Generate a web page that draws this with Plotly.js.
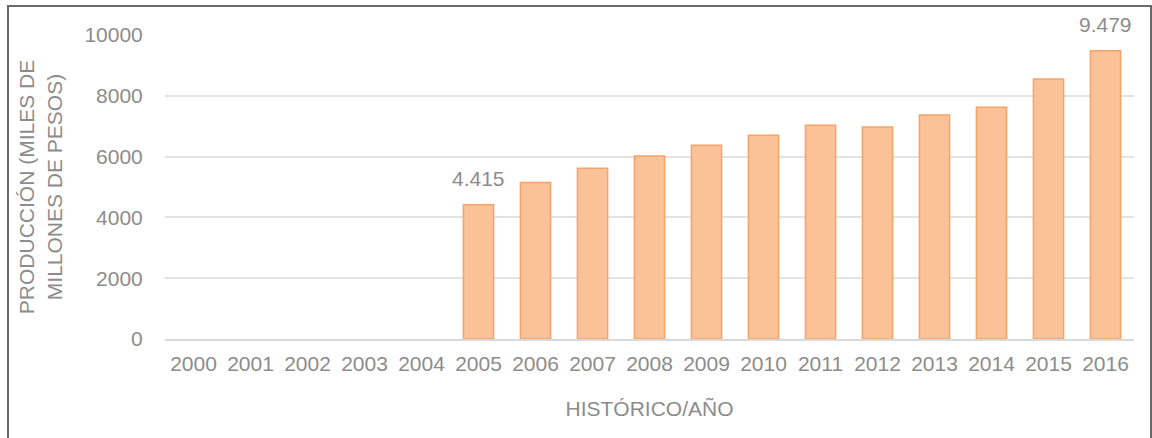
<!DOCTYPE html>
<html>
<head>
<meta charset="utf-8">
<script src="https://cdn.plot.ly/plotly-3.0.1.min.js"></script>
<style>
  html, body { margin:0; padding:0; background:#fff; }
  #wrap { position:relative; width:1152px; height:438px; overflow:hidden; }
  #chart { position:absolute; left:0; top:0; width:1152px; height:438px; }
  #frame { position:absolute; left:7px; top:5px; width:1141px; height:450px;
           border-left:2px solid #6a6a6a; border-top:2px solid #6a6a6a; border-right:2px solid #6a6a6a;
           pointer-events:none; }
</style>
</head>
<body>
<div id="wrap">
  <div id="chart"></div>
  <div id="frame"></div>
</div>
<script>
const years = ['2000','2001','2002','2003','2004','2005','2006','2007','2008','2009','2010','2011','2012','2013','2014','2015','2016'];
const production = [null, null, null, null, null, 4415, 5150, 5620, 6020, 6370, 6700, 7030, 6970, 7370, 7620, 8550, 9479];
const labelYears = ['2005', '2016'];
const labelTexts = ['4.415', '9.479'];
const labelValues = [4415, 9479];
const yTicks = [0, 2000, 4000, 6000, 8000, 10000];

const textColor = '#8c8c8c';
const fontFam = '"Liberation Sans", Arial, sans-serif';

const trace = {
  type: 'bar',
  x: years,
  y: production,
  marker: { color: '#FBC197', line: { color: '#F2A46A', width: 1.5 } },
  hoverinfo: 'x+y'
};

const annotations = labelYears.map((yr, i) => ({
  x: years.indexOf(yr), y: labelValues[i], xref: 'x', yref: 'y',
  text: labelTexts[i], showarrow: false,
  yanchor: 'middle', yshift: 26,
  font: { family: fontFam, size: 21, color: textColor }
}));

const layout = {
  width: 1152, height: 438,
  margin: { l: 165, r: 18, t: 35, b: 99 },
  paper_bgcolor: '#ffffff', plot_bgcolor: '#ffffff',
  showlegend: false,
  bargap: 0.47,
  font: { family: fontFam, size: 21, color: textColor },
  xaxis: {
    type: 'category',
    categoryorder: 'array', categoryarray: years,
    range: [-0.5, years.length - 0.5],
    autorange: false,
    showgrid: false,
    zeroline: false,
    showline: true, linecolor: '#d9d9d9', linewidth: 2,
    ticks: 'outside', ticklen: 5, tickcolor: 'rgba(0,0,0,0)',
    tickfont: { family: fontFam, size: 21, color: textColor },
    title: { text: 'HISTÓRICO/AÑO', font: { family: fontFam, size: 21, color: textColor }, standoff: 27 },
    automargin: false
  },
  yaxis: {
    range: [0, 10000],
    autorange: false,
    tickvals: yTicks,
    ticktext: yTicks.map(String),
    showgrid: true, gridcolor: '#e3e3e3', gridwidth: 2,
    zeroline: false,
    showline: false,
    ticks: 'outside', ticklen: 17, tickcolor: 'rgba(0,0,0,0)',
    tickfont: { family: fontFam, size: 21, color: textColor },
    title: { text: 'PRODUCCIÓN (MILES DE<br>MILLONES DE PESOS)', font: { family: fontFam, size: 21, color: textColor }, standoff: 16 },
    automargin: false
  },
  annotations: annotations
};

Plotly.newPlot('chart', [trace], layout, { displayModeBar: false, staticPlot: true });
</script>
</body>
</html>
